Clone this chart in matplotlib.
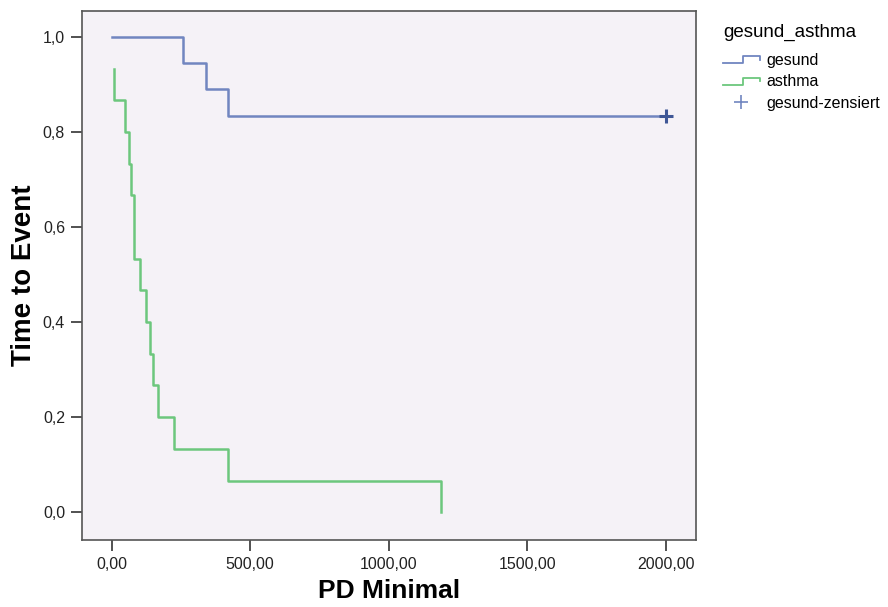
import matplotlib
matplotlib.use("Agg")
import matplotlib.pyplot as plt
from matplotlib.lines import Line2D
from matplotlib.legend_handler import HandlerBase
from matplotlib.ticker import FuncFormatter

plt.rcParams["font.family"] = ["Liberation Sans", "DejaVu Sans"]

# Kaplan-Meier steps
gesund_t = [0, 256, 340, 419, 2000]
gesund_s = [1.0, 0.944, 0.889, 0.833, 0.833]
gesund_cens_t = [2000]
gesund_cens_s = [0.833]

asthma_t = [9, 9, 48, 64, 69, 82, 102, 124, 138, 150, 166, 224, 421, 1189]
asthma_s = [0.933, 0.867, 0.8, 0.733, 0.667, 0.533, 0.467, 0.4, 0.333,
            0.267, 0.2, 0.133, 0.067, 0.0]

x_ticks = [0, 500, 1000, 1500, 2000]
y_ticks = [0.0, 0.2, 0.4, 0.6, 0.8, 1.0]

blue = "#7186c0"
green = "#6cc77d"
bg = "#f5f2f7"
frame = "#555555"


class StepHandler(HandlerBase):
    def create_artists(self, legend, orig, xd, yd, w, h, fontsize, trans):
        xs = [xd, xd + w * 0.55, xd + w * 0.55, xd + w, xd + w]
        ys = [yd + h * 0.15, yd + h * 0.15, yd + h * 0.8, yd + h * 0.8, yd + h * 0.45]
        ln = Line2D(xs, ys, color=orig.get_color(), lw=1.3, transform=trans)
        return [ln]


fig = plt.figure(figsize=(8.88, 6.07), dpi=100)
ax = fig.add_axes([0.092, 0.1104, 0.6915, 0.872])
ax.set_facecolor(bg)

ax.step(gesund_t, gesund_s, where="post", color=blue, lw=1.8)
ax.step(asthma_t, asthma_s, where="post", color=green, lw=1.8)
ax.plot(gesund_cens_t, gesund_cens_s, ls="none", marker="+", ms=10,
        mew=2.2, color="#3f5796")

ax.set_xlim(-108, 2108)
ax.set_ylim(-0.058, 1.0546)
ax.set_xticks(x_ticks)
ax.set_yticks(y_ticks)
ax.xaxis.set_major_formatter(FuncFormatter(lambda v, p: f"{v:.2f}".replace(".", ",")))
ax.yaxis.set_major_formatter(FuncFormatter(lambda v, p: f"{v:.1f}".replace(".", ",")))
ax.tick_params(direction="out", length=8, width=1.2, color="#333333",
               labelsize=11.5, labelcolor="#222222", pad=4)
for sp in ax.spines.values():
    sp.set_color(frame)
    sp.set_linewidth(1.2)

ax.set_xlabel("PD Minimal", fontsize=19, fontweight="bold", labelpad=5)
ax.set_ylabel("Time to Event", fontsize=20, fontweight="bold", labelpad=4)

h1 = Line2D([], [], color=blue)
h2 = Line2D([], [], color=green)
h3 = Line2D([], [], ls="none", marker="+", ms=10, mew=1.2, color=blue)
leg = fig.legend([h1, h2, h3], ["gesund", "asthma", "gesund-zensiert"],
                 handler_map={h1: StepHandler(), h2: StepHandler()},
                 title="gesund_asthma", loc="upper left",
                 bbox_to_anchor=(0.807, 0.972), frameon=False,
                 fontsize=11.5, title_fontsize=13.5, handlelength=2.3,
                 handletextpad=0.4, labelspacing=0.4, borderaxespad=0)
leg._legend_box.align = "left"
leg._legend_box.sep = 9

fig.savefig("out.png", dpi=100)
